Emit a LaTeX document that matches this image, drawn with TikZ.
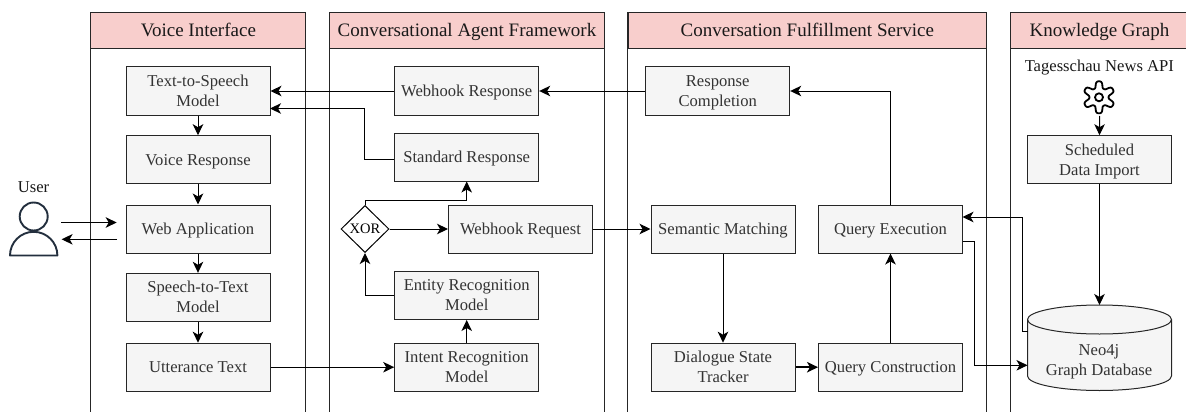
\documentclass[tikz,border=0pt]{standalone}
\usepackage{fontspec}
\setmainfont{Liberation Serif}
\usetikzlibrary{arrows.meta,shapes.geometric}
\definecolor{headfill}{HTML}{F8CECC}
\definecolor{boxfill}{HTML}{F5F5F5}
\definecolor{boxtext}{HTML}{333333}
\definecolor{usercol}{HTML}{232F3E}
\tikzset{
  lane/.style={draw=black!85,line width=1pt},
  headbox/.style={draw=black!85,fill=headfill,line width=1pt,minimum height=35.5pt,anchor=north west,inner sep=0pt,font=\fontsize{19}{22}\selectfont,text=black!90,execute at begin node=\rule{0pt}{18.5pt}\strut},
  procbox/.style={draw=black!85,fill=boxfill,line width=1pt,minimum width=144pt,minimum height=48pt,inner sep=0pt,align=center,font=\fontsize{16.6}{20}\selectfont,text=boxtext,execute at begin node=\rule{0pt}{17pt}\strut,execute at end node=\strut},
  twoline/.style={procbox,text depth=0.5pt},
  conn/.style={draw=black,line width=1pt,-{Stealth[length=11pt,width=10.5pt,inset=3pt]}},
  plain/.style={font=\fontsize{16.6}{20}\selectfont,text=black!90,inner sep=0pt,execute at begin node=\strut}
}
\begin{document}
\begin{tikzpicture}[x=1pt,y=-1pt]
\useasboundingbox (0,0) rectangle (1186,412);
\clip (0,0) rectangle (1186,412);
% lanes
\foreach \a/\b in {90.3/305.4,329/604,627.6/986,1010/1190}{
  \draw[lane] (\a,430) -- (\a,12.5) -- (\b,12.5) -- (\b,430);
}
\node[headbox,minimum width=215.1pt] (h1) at (90.3,12.5) {Voice Interface};
\node[headbox,minimum width=275pt] (h2) at (329,12.5) {Conversational Agent Framework};
\node[headbox,minimum width=358.4pt] (h3) at (627.6,12.5) {Conversation Fulfillment Service};
\node[headbox,minimum width=178pt] (h4) at (1010,12.5) {Knowledge Graph};
% voice
\node[twoline] (tts) at (198,91) {Text-to-Speech\\Model};
\node[procbox] (vr) at (198,159.7) {Voice Response};
\node[procbox] (web) at (198,229) {Web Application};
\node[twoline] (stt) at (198,297.3) {Speech-to-Text\\Model};
\node[procbox] (ut) at (198,367.2) {Utterance Text};
% agent
\node[procbox] (wr) at (466.7,91) {Webhook Response};
\node[procbox] (sr) at (466.7,157) {Standard Response};
\node[procbox] (wq) at (520.5,229) {Webhook Request};
\node[twoline] (er) at (466.7,295.5) {Entity Recognition\\Model};
\node[twoline] (ir) at (466.7,367.2) {Intent Recognition\\Model};
\node[draw=black,fill=white,diamond,aspect=1,line width=1pt,minimum width=48pt,minimum height=47pt,inner sep=0pt,font=\fontsize{14.5}{16}\selectfont] (xor) at (365,229) {XOR};
% fulfilment
\node[twoline] (rc) at (717.7,91) {Response\\Completion};
\node[procbox] (sm) at (723,229) {Semantic Matching};
\node[procbox] (qe) at (890.5,229) {Query Execution};
\node[twoline] (ds) at (723,367.2) {Dialogue State\\Tracker};
\node[procbox] (qc) at (890.5,367.2) {Query Construction};
% knowledge graph
\node[plain] (api) at (1099.3,68) {Tagesschau News API};
\node[twoline] (sd) at (1099.5,159.7) {Scheduled\\Data Import};
% cylinder
\path[draw=black!85,fill=boxfill,line width=1pt] (1027.5,319.5) arc[start angle=180,end angle=0,x radius=72pt,y radius=14.5pt] -- (1171.5,376) arc[start angle=0,end angle=-180,x radius=72pt,y radius=14.5pt] -- cycle;
\draw[black!85,line width=1pt] (1027.5,319.5) arc[start angle=180,end angle=360,x radius=72pt,y radius=14.5pt];
\coordinate (neotop) at (1099.5,305);
\coordinate (neoleft) at (1027.5,331);
\coordinate (neoin) at (1027.5,365.3);
\node[twoline,draw=none,fill=none,minimum height=0pt,minimum width=0pt] (neot) at (1099,360.5) {Neo4j\\Graph Database};
% gear icon
\coordinate (gc) at (1099,97.3);
\begin{scope}[shift={(gc)},line width=1.8pt]
  \draw[black,line join=round] plot[domain=0:360,samples=145,variable=\t,smooth] ({(12.8+3.2*tanh(1.6*cos(6*(\t-90)))/tanh(1.6))*cos(\t)},{(12.8+3.2*tanh(1.6*cos(6*(\t-90)))/tanh(1.6))*sin(\t)}) -- cycle;
  \draw[black] (0,0) circle (4pt);
\end{scope}
\coordinate (gb) at (1099.6,116);
% user icon
\node[plain] (ulabel) at (33.5,188) {User};
\coordinate (uc) at (33.7,216.5);
\draw[usercol,line width=1.9pt] (uc) circle (14pt);
\draw[usercol,line width=1.9pt,line join=round] (10,255.5) arc[start angle=180,end angle=0,radius=23.7pt] -- cycle;
\coordinate (uout) at (61,222.5);
\coordinate (uin) at (116.7,222.5);
\coordinate (uout2) at (117,239.3);
\coordinate (uin2) at (61.6,239.3);
% connectors
\draw[conn] (uout) -- (uin);
\draw[conn] (uout2) -- (uin2);
\draw[conn] (tts) -- (vr);
\draw[conn] (vr) -- (web);
\draw[conn] (web) -- (stt);
\draw[conn] (stt) -- (ut);
\draw[conn] (wr.west) -- (tts.east);
\draw[conn] (sr.west) ++(0,2.3) -- (364.7,159.3) -- (364.7,108.5) -- (270,108.5);
\draw[conn] (xor.north) -- (365,200) -- (466.7,200) -- (sr.south);
\draw[conn] (xor.east) -- (wq.west);
\draw[conn] (er.west) -- (365,295.5) -- (xor.south);
\draw[conn] (ir) -- (er);
\draw[conn] (ut.east) -- (ir.west);
\draw[conn] (rc.west) -- (wr.east);
\draw[conn] (wq.east) -- (sm.west);
\draw[conn] (sm) -- (ds);
\draw[conn,line width=1.6pt] (ds) -- (qc);
\draw[conn] (qc) -- (qe);
\draw[conn] (qe.north) -- (890.5,91) -- (rc.east);
\draw[conn] (neoleft) -- (1022,331) -- (1022,217) -- (962.5,217);
\draw[conn] (962.5,241) -- (974.3,241) -- (974.3,365.3) -- (neoin);
\draw[conn] (sd) -- (neotop);
\draw[conn] (gb) -- (sd.north);
\end{tikzpicture}
\end{document}
